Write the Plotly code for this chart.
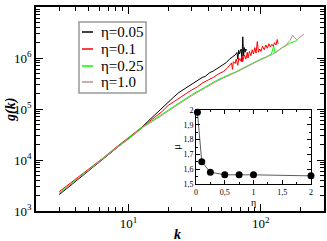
import plotly.graph_objects as go

# ---- main panel data: g(k) for several eta ----
k_black = [3, 4, 5, 6.5, 8, 10, 12, 14, 16, 18, 20, 22, 24, 26, 28, 30, 33, 36, 38, 41,
           44, 48, 52, 55, 58, 61, 64, 66, 67, 68, 69, 70, 71, 72, 73, 74, 75, 76, 77, 78]
g_black = [2100, 3850, 6200, 10500, 16500, 26500, 39000, 57000, 80000, 108000,
           138000, 172000, 210000, 240000, 272000, 305000, 350000, 415000, 435000, 515000,
           560000, 650000, 760000, 820000, 950000, 1.05e6, 1.15e6, 1.28e6, 0.95e6, 1.42e6,
           1.2e6, 1.35e6, 1.5e6, 0.85e6, 2.6e6, 1.1e6, 1.6e6, 1.3e6, 1.5e6, 1.4e6]

k_red = [3, 4, 5, 6.5, 8, 10, 12, 14, 16, 18, 20, 22, 25, 28, 30, 33, 36, 40, 44, 48,
         52, 56, 58, 60, 61, 62, 64, 65, 67, 68, 70, 72, 73, 75, 77, 79, 80, 82, 84, 86,
         88, 90, 92, 94, 96, 98, 100, 103, 106, 109, 112, 115, 118, 121, 124, 127, 130, 133, 135]
g_red = [2400, 4200, 6700, 11200, 17500, 27500, 40000, 55000, 70000, 90000,
         118000, 140000, 175000, 210000, 236000, 270000, 320000, 370000, 420000, 490000,
         540000, 640000, 730000, 800000, 600000, 850000, 780000, 950000, 720000, 1.0e6,
         880000, 1.1e6, 850000, 1.15e6, 950000, 1.3e6, 1.0e6, 1.35e6, 1.1e6, 1.45e6,
         1.2e6, 1.6e6, 1.25e6, 2.1e6, 1.3e6, 1.5e6, 1.35e6, 1.7e6, 1.45e6, 1.8e6,
         1.55e6, 1.9e6, 1.65e6, 1.85e6, 1.7e6, 2.0e6, 1.8e6, 2.3e6, 1.9e6]

k_green = [3, 4, 5, 6.5, 8, 10, 13, 17, 22, 26, 30, 35, 40, 46, 52, 58, 65, 72, 80, 90,
           100, 110, 120, 125, 128, 135, 145, 155, 165, 175, 187]
g_green = [2250, 4050, 6500, 11000, 17000, 26000, 46000, 72000, 115000, 150000,
           190000, 240000, 300000, 360000, 420000, 470000, 540000, 620000, 720000, 830000,
           950000, 1.05e6, 1.2e6, 1.7e6, 1.25e6, 1.4e6, 1.6e6, 1.75e6, 1.95e6, 2.05e6, 2.2e6]

k_brown = [3, 4, 5, 6.5, 8, 10, 13, 17, 22, 26, 30, 35, 40, 46, 52, 58, 65, 72, 80, 90,
           100, 110, 120, 130, 140, 146, 155, 166, 174, 180, 187, 195, 203, 212]
g_brown = [2200, 4000, 6400, 10800, 16800, 25500, 44500, 69000, 110000, 143000,
           182000, 230000, 288000, 345000, 405000, 455000, 525000, 600000, 700000, 810000,
           930000, 1.03e6, 1.15e6, 1.3e6, 1.5e6, 1.65e6, 1.8e6, 2.2e6, 2.8e6, 2.5e6,
           2.25e6, 2.5e6, 2.75e6, 2.95e6]

series_names = ["η=0.05", "η=0.1", "η=0.25", "η=1.0"]
series_colors = ["#000000", "#ff0000", "#00ff00", "#bc8f8f"]

# ---- inset data: mu vs eta ----
eta = [0.025, 0.1, 0.25, 0.5, 0.75, 1.0, 2.0]
mu = [1.985, 1.65, 1.58, 1.562, 1.562, 1.562, 1.555]

# ---- tick labels ----
x_major = [10, 100]
x_major_text = ["10<sup>1</sup>", "10<sup>2</sup>"]
y_major = [1e3, 1e4, 1e5, 1e6, 1e7]
y_major_text = ["10<sup>3</sup>", "10<sup>4</sup>", "10<sup>5</sup>", "10<sup>6</sup>", "10<sup>7</sup>"]
mults = [2, 3, 4, 5, 6, 7, 8, 9]
x_minor = [m * d for d in [1, 10, 100] for m in mults]
y_minor = [m * d for d in [1e3, 1e4, 1e5, 1e6] for m in mults]
in_x_ticks = [0, 0.5, 1, 1.5, 2]
in_x_text = ["0", "0,5", "1", "1,5", "2"]
in_y_ticks = [1.5, 1.6, 1.7, 1.8, 1.9, 2.0]
in_y_text = ["1,5", "1,6", "1,7", "1,8", "1,9", "2"]

FONT = "Liberation Serif"
W, H = 327, 241
L, R, T, B = 36, 3, 7, 30
PW, PH = W - L - R, H - T - B


def px(xp):
    return (xp - L) / PW


def py(yp):
    return (H - B - yp) / PH


fig = go.Figure()
for kx, gy, nm, col in zip([k_black, k_red, k_green, k_brown],
                           [g_black, g_red, g_green, g_brown],
                           series_names, series_colors):
    fig.add_trace(go.Scatter(x=kx, y=gy, mode="lines", name=nm,
                             line=dict(color=col, width=1), showlegend=False,
                             xaxis="x", yaxis="y"))

fig.add_trace(go.Scatter(x=eta, y=mu, mode="lines+markers", showlegend=False,
                         line=dict(color="#333333", width=0.8),
                         marker=dict(color="black", size=7),
                         cliponaxis=False, xaxis="x2", yaxis="y2"))

axis_common = dict(showline=True, linecolor="black", mirror="allticks", ticks="inside",
                   tickcolor="black", showgrid=False, zeroline=False, automargin=False)

fig.update_layout(
    width=W, height=H,
    margin=dict(l=L, r=R, t=T, b=B, autoexpand=False),
    paper_bgcolor="white", plot_bgcolor="white",
    font=dict(family=FONT, color="black"),
    xaxis=dict(type="log", range=[0.30103, 2.4771], domain=[0, 1], anchor="y",
               tickmode="array", tickvals=x_major, ticktext=x_major_text,
               ticklen=7, linewidth=1.5, tickwidth=1,
               tickfont=dict(family=FONT, size=13),
               minor=dict(tickmode="array", tickvals=x_minor, ticks="inside",
                          ticklen=4, tickcolor="black", showgrid=False),
               **axis_common),
    yaxis=dict(type="log", range=[3, 7], domain=[0, 1], anchor="x",
               tickmode="array", tickvals=y_major, ticktext=y_major_text,
               ticklen=7, linewidth=1.5, tickwidth=1,
               tickfont=dict(family=FONT, size=13),
               minor=dict(tickmode="array", tickvals=y_minor, ticks="inside",
                          ticklen=4, tickcolor="black", showgrid=False),
               **axis_common),
    xaxis2=dict(range=[0, 2], domain=[px(196), px(311)], anchor="y2",
                tickmode="array", tickvals=in_x_ticks, ticktext=in_x_text,
                ticklen=4, linewidth=1, tickwidth=1,
                tickfont=dict(family=FONT, size=8),
                minor=dict(dtick=0.25, ticks="inside", ticklen=2, tickcolor="black", showgrid=False),
                **axis_common),
    yaxis2=dict(range=[1.5, 2.0], domain=[py(184), py(110)], anchor="x2",
                tickmode="array", tickvals=in_y_ticks, ticktext=in_y_text,
                ticklen=4, linewidth=1, tickwidth=1,
                tickfont=dict(family=FONT, size=8),
                minor=dict(dtick=0.05, ticks="inside", ticklen=2, tickcolor="black", showgrid=False),
                **axis_common),
)

# legend box (drawn manually to match the compact original)
fig.add_shape(type="rect", xref="paper", yref="paper",
              x0=px(79), x1=px(146), y0=py(93), y1=py(22),
              line=dict(color="#999999", width=1.5), fillcolor="white", layer="above")
rows = [32, 49, 66, 82]
for yrow, nm, col in zip(rows, series_names, series_colors):
    fig.add_shape(type="line", xref="paper", yref="paper",
                  x0=px(82), x1=px(93), y0=py(yrow), y1=py(yrow),
                  line=dict(color=col, width=1.5), layer="above")
    fig.add_annotation(xref="paper", yref="paper", x=px(99), y=py(yrow),
                       text=nm, showarrow=False, xanchor="left", yanchor="middle",
                       font=dict(family=FONT, size=15, color="black"))

# axis titles
fig.add_annotation(xref="paper", yref="paper", x=px(11), y=py(110),
                   text="<b><i>g(k)</i></b>", textangle=-90, showarrow=False,
                   xanchor="center", yanchor="middle", font=dict(family=FONT, size=14))
fig.add_annotation(xref="paper", yref="paper", x=px(177), y=py(234),
                   text="<b><i>k</i></b>", showarrow=False,
                   xanchor="center", yanchor="middle", font=dict(family=FONT, size=14))
fig.add_annotation(xref="paper", yref="paper", x=px(176), y=py(147),
                   text="μ", textangle=-90, showarrow=False,
                   xanchor="center", yanchor="middle", font=dict(family=FONT, size=11))
fig.add_annotation(xref="paper", yref="paper", x=px(253), y=py(202),
                   text="η", showarrow=False,
                   xanchor="center", yanchor="middle", font=dict(family=FONT, size=10))

fig.write_html("out.html", config={"displayModeBar": False},
               post_script="document.body.style.margin='0';document.body.style.padding='0';")
